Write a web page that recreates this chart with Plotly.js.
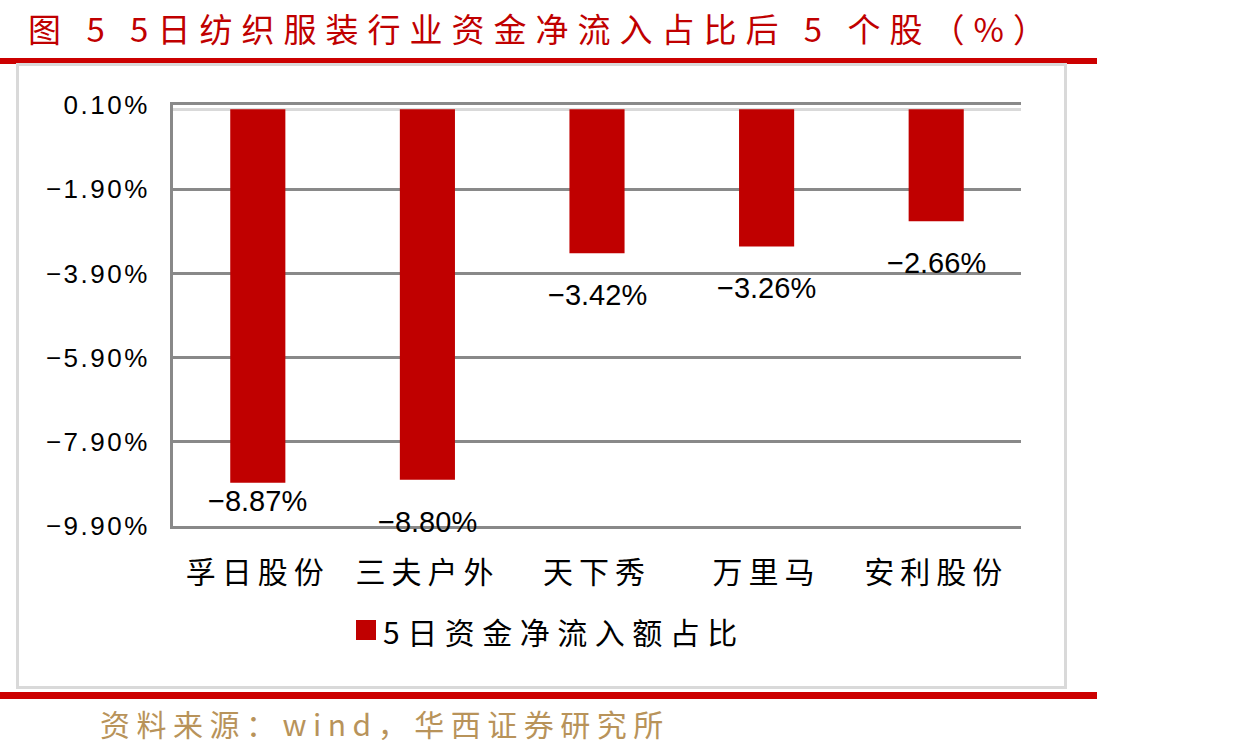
<!DOCTYPE html>
<html>
<head>
<meta charset="utf-8">
<script src="https://cdn.plot.ly/plotly-3.0.1.min.js"></script>
<style>
  body { margin: 0; background: #fff; }
  #chart .xtick text { letter-spacing: 6px; }
  #chart .ytick text { letter-spacing: 2.5px; }
  #chart g.annotation[data-index="0"] text { letter-spacing: 9px; }
  #chart g.annotation[data-index="1"] text { letter-spacing: 6.5px; }
  #chart g.annotation[data-index="2"] text { letter-spacing: 7.5px; }
</style>
</head>
<body>
<div id="chart" style="width:1235px;height:756px"></div>
<script>
// data
var stocks = ['孚日股份', '三夫户外', '天下秀', '万里马', '安利股份'];
var netInflowPct = [-8.87, -8.80, -3.42, -3.26, -2.66];
var yTickVals = [0.1, -1.9, -3.9, -5.9, -7.9, -9.9];
var yTickText = ['0.10%', '−1.90%', '−3.90%', '−5.90%', '−7.90%', '−9.90%'];
var seriesName = '5日资金净流入额占比';
var titleText = '图 5 5日纺织服装行业资金净流入占比后 5 个股（%）';
var sourceText = '资料来源：wind，华西证券研究所';

// label offsets below bar ends (px)
var labelShift = [-18, -42, -42, -42, -42];

var barColor = '#C00000';
var redLine = '#CC0000';

// plot box in pixels: x 173..1021, y 105..526
function px(x) { return (x - 173) / 848; }
function py(y) { return (526 - y) / 421; }

function fmt(v) {
	return (v < 0 ? '−' : '') + Math.abs(v).toFixed(2) + '%';
}

var trace = {
	type: 'bar',
	x: stocks,
	y: netInflowPct,
	name: seriesName,
	marker: { color: barColor },
	hoverinfo: 'none'
};

var annotations = [
	{ xref: 'paper', yref: 'paper', x: px(26), y: py(28), xanchor: 'left', yanchor: 'middle', align: 'left',
	  text: titleText, showarrow: false, font: { family: 'Noto Sans CJK SC', size: 33, color: '#C00000' } },
	{ xref: 'paper', yref: 'paper', x: px(98), y: py(723), xanchor: 'left', yanchor: 'middle', align: 'left',
	  text: sourceText, showarrow: false, font: { family: 'Noto Sans CJK SC', size: 30, color: '#B8935A' } },
	{ xref: 'paper', yref: 'paper', x: px(381), y: py(631), xanchor: 'left', yanchor: 'middle', align: 'left',
	  text: seriesName, showarrow: false, font: { family: 'Noto Sans CJK SC', size: 30, color: '#000' } }
];
var i;
for (i = 0; i < stocks.length; i++) {
	annotations.push({
		x: stocks[i], y: netInflowPct[i], xref: 'x', yref: 'y',
		text: fmt(netInflowPct[i]), showarrow: false, yanchor: 'middle',
		yshift: labelShift[i],
		font: { family: 'Liberation Sans', size: 29, color: '#000' }
	});
}

var shapes = [
	// top red rule
	{ type: 'rect', xref: 'paper', yref: 'paper', x0: px(0), x1: px(1097), y0: py(58), y1: py(64),
	  fillcolor: redLine, line: { width: 0 }, layer: 'below' },
	// chart frame
	{ type: 'rect', xref: 'paper', yref: 'paper', x0: px(17.5), x1: px(1065.5), y0: py(64.5), y1: py(687.5),
	  line: { color: '#D9D9D9', width: 3 }, layer: 'below' },
	// bottom red rule
	{ type: 'rect', xref: 'paper', yref: 'paper', x0: px(0), x1: px(1097), y0: py(692), y1: py(699),
	  fillcolor: redLine, line: { width: 0 }, layer: 'below' },
	// legend swatch
	{ type: 'rect', xref: 'paper', yref: 'paper', x0: px(356), x1: px(376), y0: py(620), y1: py(640),
	  fillcolor: barColor, line: { width: 0 } }
];

var layout = {
	width: 1235,
	height: 756,
	margin: { l: 173, r: 214, t: 105, b: 230, pad: 0 },
	paper_bgcolor: '#fff',
	plot_bgcolor: '#fff',
	showlegend: false,
	bargap: 0.675,
	xaxis: {
		showline: true, mirror: true, linecolor: '#898989', linewidth: 3,
		showgrid: false, ticks: '', ticklabelstandoff: 18,
		tickfont: { family: 'Noto Sans CJK SC', size: 30, color: '#000' },
		fixedrange: true
	},
	yaxis: {
		range: [-9.9, 0.1], tickmode: 'array', tickvals: yTickVals, ticktext: yTickText,
		showgrid: true, gridcolor: '#898989', gridwidth: 3,
		zeroline: true, zerolinecolor: '#D9D9D9', zerolinewidth: 3,
		showline: true, linecolor: '#898989', linewidth: 3,
		ticks: '', ticklabelstandoff: 15,
		tickfont: { family: 'Liberation Sans', size: 26, color: '#000' },
		fixedrange: true
	},
	annotations: annotations,
	shapes: shapes
};

Plotly.newPlot('chart', [trace], layout, { displayModeBar: false, staticPlot: true });
</script>
</body>
</html>
